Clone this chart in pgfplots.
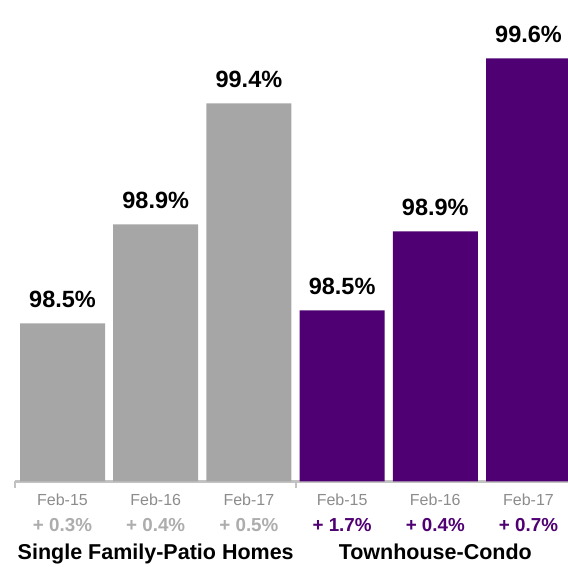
\documentclass[border=0pt]{standalone}
\usepackage{pgfplots}
\pgfplotsset{compat=1.18}
\usepackage{fontspec}
\setmainfont{Liberation Sans}
\definecolor{bargray}{HTML}{A6A6A6}
\definecolor{barpurple}{HTML}{4F0072}
\definecolor{tickgray}{HTML}{8C8C8C}
\definecolor{chggray}{HTML}{ADADAD}
\definecolor{axisgray}{HTML}{C2C2C2}
% tick label: month on top, change below
\newcommand{\tl}[3]{{\color{tickgray}#1}\\{\color{#3}\bfseries\fontsize{18.8}{26}\selectfont + #2\%}}
\begin{document}
\begin{tikzpicture}
\path[use as bounding box] (0,0) rectangle (568pt,567pt);
\begin{axis}[
    at={(15pt,85.5pt)}, anchor=south west,
    scale only axis, width=553pt, height=481.5pt,
    ybar, bar width=85pt,
    xmin=-0.5097, xmax=5.4238,
    ymin=0, ymax=481.5,
    clip=false,
    axis x line*=bottom, axis y line=none,
    x axis line style={-, color=axisgray, line width=2.5pt},
    xtick={0,...,5},
    xticklabels={
      \tl{Feb-15}{0.3}{chggray}, \tl{Feb-16}{0.4}{chggray}, \tl{Feb-17}{0.5}{chggray},
      \tl{Feb-15}{1.7}{barpurple}, \tl{Feb-16}{0.4}{barpurple}, \tl{Feb-17}{0.7}{barpurple}},
    major tick length=0pt,
    xticklabel style={align=center, inner sep=0pt, yshift=-12pt,
      font=\fontsize{16}{26}\selectfont},
    extra x ticks={-0.5097,2.5},
    extra x tick labels={},
    extra x tick style={major tick length=7pt, tick align=outside,
      tick style={color=axisgray, line width=2pt}},
    point meta=explicit symbolic,
    nodes near coords,
    every node near coord/.append style={anchor=base, yshift=16pt,
      font=\bfseries\fontsize{23.5}{26}\selectfont, color=black},
]
\addplot[fill=bargray, draw=none, bar shift=0pt] coordinates {
    (0,158) [98.5\%]
    (1,257) [98.9\%]
    (2,378) [99.4\%]
};
\addplot[fill=barpurple, draw=none, bar shift=0pt] coordinates {
    (3,171) [98.5\%]
    (4,250) [98.9\%]
    (5,423) [99.6\%]
};
\node[anchor=base, font=\bfseries\fontsize{21.5}{24}\selectfont, yshift=-77.8pt]
  at (axis cs:1,0) {Single Family-Patio Homes};
\node[anchor=base, font=\bfseries\fontsize{21.5}{24}\selectfont, yshift=-77.8pt]
  at (axis cs:4,0) {Townhouse-Condo};
\end{axis}
\end{tikzpicture}
\end{document}
